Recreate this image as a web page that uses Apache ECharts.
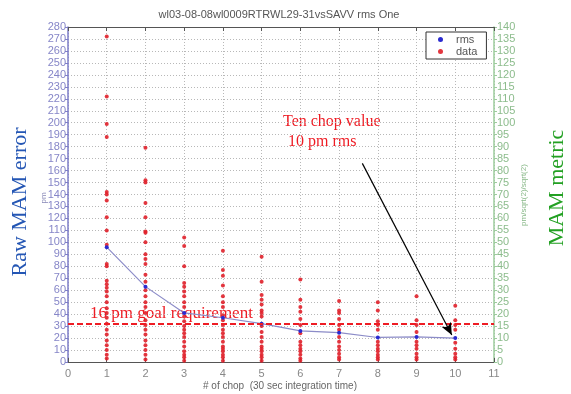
<!DOCTYPE html>
<html>
<head>
<meta charset="utf-8">
<script src="https://cdn.jsdelivr.net/npm/echarts@6/dist/echarts.min.js"></script>
<style>
  html, body { margin: 0; padding: 0; background: #fff; }
  #chart { width: 571px; height: 394px; }
</style>
</head>
<body>
<div id="chart"></div>
<script>
// Number of chops (30 s integration each)
const chopCounts = [1, 2, 3, 4, 5, 6, 7, 8, 9, 10];

// Raw MAM error samples (pm) for each chop count
const chop1 = [272, 222, 199, 188, 142, 140, 135, 121, 110, 98, 82, 80, 68, 65, 62, 59, 55, 50, 45, 41, 37, 32, 27, 23, 18, 14, 10, 6, 3];
const chop2 = [179, 152, 150, 133, 121, 109, 108, 100, 90, 86, 82, 73, 67, 60, 55, 50, 46, 41, 35, 31, 27, 23, 18, 14, 10, 6, 2];
const chop3 = [104, 97, 80, 66, 63, 59, 55, 50, 46, 38, 34, 30, 27, 24, 21, 17, 13, 9, 6, 4, 1];
const chop4 = [93, 77, 72, 64, 55, 50, 46, 39, 35, 31, 27, 24, 21, 17, 13, 11, 9, 6, 4, 1];
const chop5 = [88, 67, 56, 52, 48, 43, 41, 38, 30, 25, 21, 17, 13, 11, 9, 6, 4, 1];
const chop6 = [69, 52, 46, 42, 36, 31, 24, 17, 14, 11, 9, 6, 3, 1];
const chop7 = [51, 43, 41, 36, 31, 27, 21, 17, 13, 10, 7, 4, 2];
const chop8 = [50, 43, 34, 31, 27, 17, 14, 11, 9, 6, 4, 2];
const chop9 = [55, 35, 31, 25, 17, 14, 11, 7, 4, 2];
const chop10 = [47, 35, 31, 27, 16, 11, 7, 4, 2];
const samplesByChop = [chop1, chop2, chop3, chop4, chop5, chop6, chop7, chop8, chop9, chop10];

// RMS of the raw error for each chop count (pm)
const rmsError = [96, 63, 41, 37, 32, 26, 24.5, 20.5, 21, 20];

// 16 pm metric goal expressed on the raw (pm) scale
const goalRaw = 32;

// Annotation arrow: from the text down to the ten-chop rms point
const arrowFrom = [7.6, 166];
const arrowTo = [9.91, 22.6];

const scatterData = [];
chopCounts.forEach((c, i) => {
  samplesByChop[i].forEach(v => scatterData.push([c, v]));
});
const rmsData = chopCounts.map((c, i) => [c, rmsError[i]]);

const chart = echarts.init(document.getElementById('chart'), null, { renderer: 'canvas' });

const dotted = { type: [1, 2], color: '#b8b8b8', width: 1 };

chart.setOption({
  animation: false,
  backgroundColor: '#fff',
  grid: { left: 68, right: 77, top: 27, bottom: 32, containLabel: false },
  legend: {
    orient: 'vertical',
    left: 426, top: 32,
    padding: [2, 9, 2, 12],
    itemGap: 1,
    itemWidth: 5, itemHeight: 5,
    borderColor: '#333', borderWidth: 1,
    backgroundColor: '#fff',
    textStyle: { color: '#555', fontSize: 11, fontFamily: 'Liberation Sans', padding: [0, 0, 0, 8] },
    data: [
      { name: 'rms', icon: 'circle', itemStyle: { color: '#2a2ad0' } },
      { name: 'data', icon: 'circle', itemStyle: { color: '#e0202a' } }
    ]
  },
  xAxis: [
    {
      type: 'value', position: 'bottom', min: 0, max: 11, interval: 1,
      axisLine: { onZero: false, lineStyle: { color: '#555', width: 1 } },
      axisTick: { inside: true, length: 4, lineStyle: { color: '#555' } },
      axisLabel: { color: '#888', fontSize: 11, margin: 6, fontFamily: 'Liberation Sans' },
      splitLine: { show: true, lineStyle: dotted }
    },
    {
      type: 'value', position: 'top', min: 0, max: 11, interval: 1,
      axisLine: { onZero: false, lineStyle: { color: '#555', width: 1 } },
      axisTick: { inside: true, length: 4, lineStyle: { color: '#555' } },
      axisLabel: { show: false },
      splitLine: { show: false }
    }
  ],
  yAxis: [
    {
      type: 'value', position: 'left', min: 0, max: 280, interval: 10,
      axisLine: { show: true, onZero: false, lineStyle: { color: '#7c7cc8', width: 1.5 } },
      axisTick: { show: true, inside: false, length: 3, lineStyle: { color: '#7c7cc8' } },
      axisLabel: { color: '#8686c8', fontSize: 11, margin: 2, fontFamily: 'Liberation Sans' },
      splitLine: { show: true, lineStyle: dotted }
    },
    {
      type: 'value', position: 'right', min: 0, max: 140, interval: 5,
      axisLine: { show: true, onZero: false, lineStyle: { color: '#9ccc9c', width: 1.5 } },
      axisTick: { show: true, inside: false, length: 3, lineStyle: { color: '#9ccc9c' } },
      axisLabel: { color: '#8cbc8c', fontSize: 11, margin: 3, fontFamily: 'Liberation Sans' },
      splitLine: { show: false }
    }
  ],
  series: [
    {
      name: 'data', type: 'scatter', xAxisIndex: 0, yAxisIndex: 0,
      data: scatterData, symbol: 'circle', symbolSize: 4,
      itemStyle: { color: '#e0202a', opacity: 0.9 },
      z: 3
    },
    {
      name: 'rms', type: 'line', xAxisIndex: 0, yAxisIndex: 0,
      data: rmsData, symbol: 'circle', symbolSize: 4, showSymbol: true,
      lineStyle: { color: '#8c8cc8', width: 1.2 },
      itemStyle: { color: '#2a2ad0' },
      z: 4,
      markLine: {
        silent: true, animation: false,
        symbol: ['none', 'none'],
        label: { show: false },
        data: [
          {
            yAxis: goalRaw,
            lineStyle: { color: '#ee1c24', width: 2, type: [6, 3] }
          },
          [
            { coord: arrowFrom, symbol: 'none', lineStyle: { color: '#000', width: 1.2, type: 'solid' } },
            { coord: arrowTo, symbol: 'arrow', symbolSize: [8, 12] }
          ]
        ]
      }
    }
  ],
  graphic: [
    { type: 'text', x: 279, y: 15, style: { text: 'wl03-08-08wl0009RTRWL29-31vsSAVV rms One', font: '11px "Liberation Sans"', fill: '#555', align: 'center', verticalAlign: 'middle' } },
    { type: 'text', x: 280, y: 386, style: { text: '# of chop  (30 sec integration time)', font: '10px "Liberation Sans"', fill: '#666', align: 'center', verticalAlign: 'middle' } },
    { type: 'text', x: 44, y: 198, rotation: Math.PI / 2, style: { text: 'pm', font: '8px "Liberation Sans"', fill: '#8a8ab8', align: 'center', verticalAlign: 'middle' } },
    { type: 'text', x: 524, y: 195, rotation: Math.PI / 2, style: { text: 'pm/sqrt(2)/sqrt(2)', font: '8px "Liberation Sans"', fill: '#88b888', align: 'center', verticalAlign: 'middle' } },
    { type: 'text', x: 20, y: 202, rotation: Math.PI / 2, style: { text: 'Raw MAM error', font: '22px "Liberation Serif"', fill: '#2456b4', align: 'center', verticalAlign: 'middle' } },
    { type: 'text', x: 557, y: 188, rotation: Math.PI / 2, style: { text: 'MAM metric', font: '22px "Liberation Serif"', fill: '#22a022', align: 'center', verticalAlign: 'middle' } },
    { type: 'text', x: 283, y: 122, style: { text: 'Ten chop value', font: '16px "Liberation Serif"', fill: '#ee1c24', align: 'left', verticalAlign: 'middle' } },
    { type: 'text', x: 288, y: 142, style: { text: '10 pm rms', font: '16px "Liberation Serif"', fill: '#ee1c24', align: 'left', verticalAlign: 'middle' } },
    { type: 'text', x: 90, y: 314, style: { text: '16 pm goal requirement', font: '17px "Liberation Serif"', fill: '#ee1c24', align: 'left', verticalAlign: 'middle' } }
  ]
});
</script>
</body>
</html>
